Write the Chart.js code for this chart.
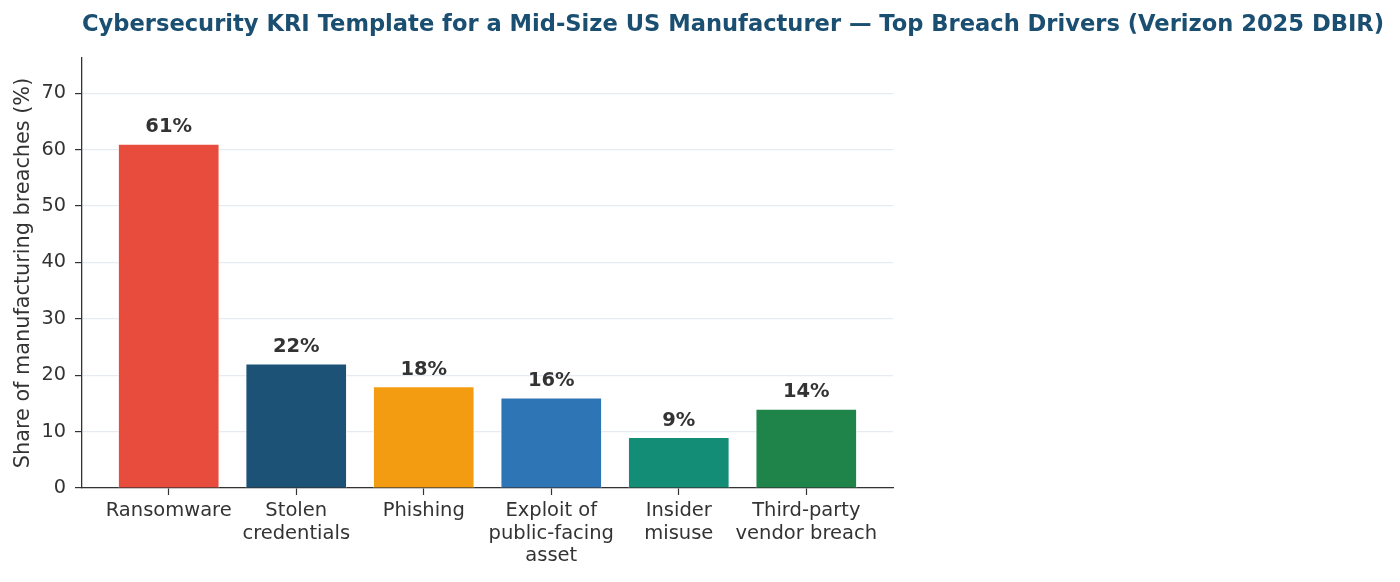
<!DOCTYPE html>
<html>
<head>
<meta charset="utf-8">
<script src="https://cdn.jsdelivr.net/npm/chart.js@4/dist/chart.umd.min.js"></script>
<style>
  html, body { margin: 0; padding: 0; background: #fff; }
  #wrap { width: 1400px; height: 582px; }
</style>
</head>
<body>
<div id="wrap"><canvas id="chart" width="1400" height="582"></canvas></div>
<script>
/* ---- data ---- */
const categories = [
  ["Ransomware"],
  ["Stolen", "credentials"],
  ["Phishing"],
  ["Exploit of", "public-facing", "asset"],
  ["Insider", "misuse"],
  ["Third-party", "vendor breach"]
];
const shares = [61, 22, 18, 16, 9, 14];
const barColors = ["#e74c3c", "#1b5276", "#f39c12", "#2e75b6", "#138d75", "#1e8449"];
const yTicks = [0, 10, 20, 30, 40, 50, 60, 70];

const titleText = "Cybersecurity KRI Template for a Mid-Size US Manufacturer \u2014 Top Breach Drivers (Verizon 2025 DBIR)";
const FONT = "'DejaVu Sans', sans-serif";
const INK = "#333333";

// title drawn across the whole canvas (the plot only takes the left part)
const titlePlugin = {
  id: "bigTitle",
  afterDraw(chart) {
    const ctx = chart.ctx;
    ctx.save();
    ctx.font = "bold 22.6px " + FONT;
    ctx.fillStyle = "#1b4f72";
    ctx.textAlign = "center";
    ctx.textBaseline = "middle";
    ctx.fillText(titleText, 733, 25);
    ctx.restore();
  }
};

// percentage labels above each bar
const valueLabels = {
  id: "valueLabels",
  afterDatasetsDraw(chart) {
    const ctx = chart.ctx;
    const meta = chart.getDatasetMeta(0);
    ctx.save();
    ctx.font = "bold 19.5px " + FONT;
    ctx.fillStyle = INK;
    ctx.textAlign = "center";
    ctx.textBaseline = "bottom";
    meta.data.forEach((bar, i) => {
      ctx.fillText(shares[i] + "%", bar.x, bar.y - 7);
    });
    ctx.restore();
  }
};

new Chart(document.getElementById("chart").getContext("2d"), {
  type: "bar",
  data: {
    datasets: [{
      data: shares.map((v, i) => ({ x: i, y: v })),
      backgroundColor: barColors,
      borderColor: "rgba(255,255,255,0.75)",
      borderWidth: 1,
      borderSkipped: "bottom",
      barThickness: 101
    }]
  },
  options: {
    responsive: false,
    animation: false,
    layout: { padding: { top: 58, right: 507, left: 0, bottom: 0 } },
    plugins: {
      legend: { display: false },
      title: { display: false },
      tooltip: { enabled: false }
    },
    scales: {
      x: {
        type: "linear",
        offset: false,
        min: -0.68,
        max: 5.68,
        afterBuildTicks: (scale) => { scale.ticks = categories.map((_, i) => ({ value: i })); },
        afterFit: (scale) => { scale.height = 94; },
        grid: { offset: false, drawOnChartArea: false, drawTicks: true, tickLength: 7, tickColor: INK, tickWidth: 1.2 },
        border: { color: INK, width: 1.3 },
        ticks: {
          color: INK,
          padding: 5,
          maxRotation: 0,
          autoSkip: false,
          font: { family: FONT, size: 19.5, lineHeight: 1.15 },
          callback: (v) => categories[v]
        }
      },
      y: {
        min: 0,
        max: 76.25,
        afterBuildTicks: (scale) => { scale.ticks = yTicks.map(v => ({ value: v })); },
        afterFit: (scale) => { scale.width = 82; },
        grid: { color: "#e6eaf2", lineWidth: 1.2, drawTicks: true, tickLength: 7, tickColor: INK, tickWidth: 1.2 },
        border: { color: INK, width: 1.3 },
        ticks: {
          color: INK,
          padding: 9,
          font: { family: FONT, size: 19.3 }
        },
        title: {
          display: true,
          text: "Share of manufacturing breaches (%)",
          color: INK,
          padding: { top: 11, bottom: 0 },
          font: { family: FONT, size: 20.8 }
        }
      }
    }
  },
  plugins: [valueLabels, titlePlugin]
});
</script>
</body>
</html>
